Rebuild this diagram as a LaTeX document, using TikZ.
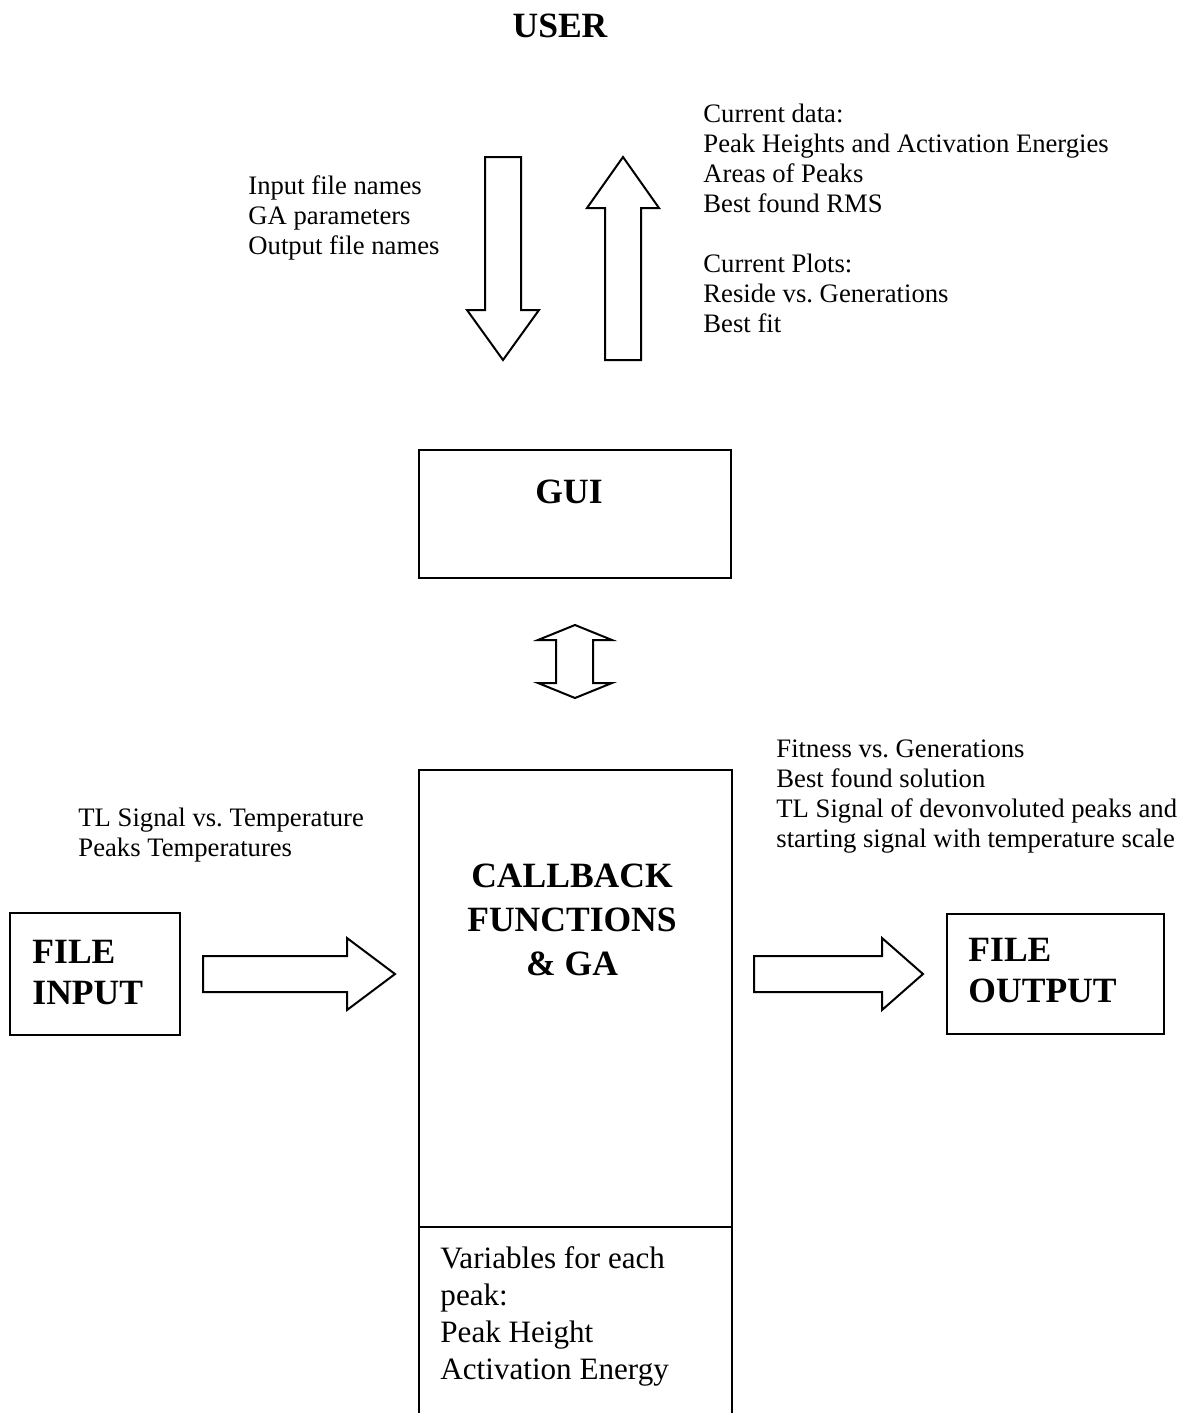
\documentclass[tikz,border=0pt]{standalone}
\usepackage{fontspec}
\setmainfont{Liberation Serif}
\usepackage{tikz}
\usetikzlibrary{positioning}
\frenchspacing

\tikzset{
  box/.style={draw,line width=0.9pt},
  blockarrow/.style={draw,line width=0.9pt,line join=miter,fill=white},
  small/.style={font=\fontsize{12}{13.5}\selectfont,align=left,inner sep=0pt,anchor=north west},
  title/.style={font=\bfseries\fontsize{16}{18.5}\selectfont,inner sep=0pt},
}

\begin{document}
\begin{tikzpicture}[x=0.45pt,y=-0.45pt]
\useasboundingbox (0,0) rectangle (1188,1413);
% title
\node[title,anchor=base] (user) at (560,37) {USER};
% arrows between user and gui
\draw[blockarrow] (485,157) -- (521,157) -- (521,310) -- (539,310) -- (503,360) -- (467,310) -- (485,310) -- cycle;
\draw[blockarrow] (605,360) -- (641,360) -- (641,208) -- (659,208) -- (623,157) -- (587,208) -- (605,208) -- cycle;
\node[small] (inlist) at (248,175) {Input file names\\GA parameters\\Output file names};
\node[small] (datalist) at (703,104) {Current data:\\Peak Heights and Activation Energies\\Areas of Peaks\\Best found RMS\\[\baselineskip]Current Plots:\\Reside vs. Generations\\Best fit};
% gui
\draw[box] (419,450) rectangle (731,578);
\node[title,anchor=base] (gui) at (569,503) {GUI};
% double arrow
\draw[blockarrow] (575,625) -- (612,640) -- (593,640) -- (593,683) -- (612,683) -- (575,698) -- (538,683) -- (556,683) -- (556,640) -- (538,640) -- cycle;
% callback box, running off the page
\draw[box] (419,1440) -- (419,770) -- (732,770) -- (732,1440);
\draw[box] (419,1227) -- (732,1227);
\node[title,align=center,anchor=north,font=\bfseries\fontsize{16}{19.8}\selectfont] (cb) at (572,863) {CALLBACK\\FUNCTIONS\\\& GA};
\node[small,font=\fontsize{14}{16.6}\selectfont] (varlist) at (440,1246) {Variables for each\\peak:\\Peak Height\\Activation Energy};
% file input side
\node[small] (tlin) at (78,808) {TL Signal vs. Temperature\\Peaks Temperatures};
\draw[box] (10,913) rectangle (180,1035);
\node[title,align=left,anchor=north west,font=\bfseries\fontsize{16}{18.2}\selectfont] (fin) at (32,940) {FILE\\INPUT};
\draw[blockarrow] (203,956) -- (347,956) -- (347,938) -- (395,974) -- (347,1010) -- (347,992) -- (203,992) -- cycle;
% file output side
\node[small] (fitout) at (776,739) {Fitness vs. Generations\\Best found solution\\TL Signal of devonvoluted peaks and\\starting signal with temperature scale};
\draw[blockarrow] (754,956) -- (882,956) -- (882,938) -- (923,974) -- (882,1010) -- (882,992) -- (754,992) -- cycle;
\draw[box] (947,914) rectangle (1164,1034);
\node[title,align=left,anchor=north west,font=\bfseries\fontsize{16}{18.2}\selectfont] (fout) at (968,938) {FILE\\OUTPUT};
\end{tikzpicture}
\end{document}
